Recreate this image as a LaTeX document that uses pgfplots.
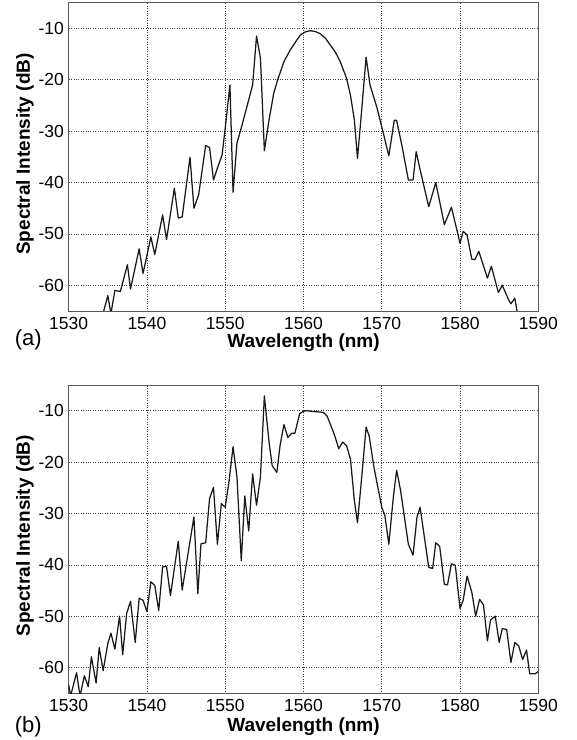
\documentclass[border=0pt]{standalone}
\usepackage{pgfplots}
\pgfplotsset{compat=1.18}
\usepackage{fontspec}
\setmainfont{Liberation Sans}

\pgfplotsset{
  spec/.style={
    scale only axis, width=469.6pt, height=308.3pt,
    xmin=1530, xmax=1590, ymin=-65, ymax=-5,
    xtick={1530,1540,...,1590}, ytick={-60,-50,...,-10},
    xticklabels={1530,1540,1550,1560,1570,1580,1590},
    yticklabels={-60,-50,-40,-30,-20,-10},
    grid=major,
    grid style={dotted, black!75, line width=0.6pt},
    axis line style={black!65, line width=0.8pt},
    major tick length=0pt,
    tick label style={font=\fontsize{17.5}{20}\selectfont, inner sep=0pt},
    xticklabel style={anchor=center, yshift=-12.5pt},
    yticklabel style={anchor=east, xshift=-4.7pt},
    no markers,
  },
  trace/.style={black!90, line width=1.25pt, line join=round, mark=none},
}
\tikzset{
  lab/.style={font=\fontsize{19}{22}\selectfont\bfseries},
  tag/.style={font=\fontsize{22}{24}\selectfont},
}

\begin{document}
\begin{tikzpicture}
\path[use as bounding box] (0,0) rectangle (577pt,740pt);

% (a) spectrum
\begin{axis}[spec, at={(68.7pt,429pt)}, anchor=south west]
\addplot[trace] coordinates {
(1534.3,-66) (1535.0,-62.0) (1535.4,-65.5) (1535.9,-61.0) (1536.6,-61.2)
(1537.5,-56.0) (1537.9,-60.7) (1539.0,-52.9) (1539.5,-57.7) (1540.5,-50.6)
(1541.0,-54.0) (1542.0,-46.3) (1542.5,-51.1) (1543.5,-41.1) (1544.0,-46.9)
(1544.5,-46.7) (1545.5,-35.1) (1546.0,-45.0) (1546.6,-42.4) (1547.5,-32.8)
(1548.0,-33.2) (1548.5,-39.5) (1549.0,-37.2) (1549.6,-34.6) (1550.0,-29.4)
(1550.6,-21.0) (1551.0,-41.9) (1551.5,-32.3) (1552.1,-29.1) (1553.0,-23.9)
(1553.5,-21.0) (1554.0,-11.5) (1554.5,-15.8) (1555.0,-33.8) (1555.6,-27.8)
(1556.2,-22.6) (1556.7,-20.0) (1557.5,-16.5) (1558.3,-14.2) (1559.0,-12.6)
(1559.6,-11.3) (1560.2,-10.7) (1560.85,-10.45) (1561.5,-10.6) (1562.1,-11.0)
(1562.8,-11.9) (1563.4,-13.2) (1564.1,-14.7) (1564.7,-16.5) (1565.5,-19.7)
(1566.0,-23.0) (1566.5,-27.8) (1566.9,-35.3) (1567.4,-26.5) (1568.0,-15.6)
(1568.5,-21.0) (1569.4,-25.5) (1570.2,-30.4) (1570.9,-34.8) (1571.6,-27.9)
(1571.9,-27.9) (1572.6,-33.0) (1573.4,-39.5) (1574.0,-39.5) (1574.4,-34.0)
(1574.9,-37.5) (1576.0,-44.7) (1576.9,-40.0) (1578.0,-48.2) (1578.9,-44.8)
(1580.0,-51.8) (1580.4,-49.5) (1580.9,-50.2) (1581.5,-54.9) (1581.9,-55.0)
(1582.4,-53.4) (1583.5,-58.6) (1584.0,-56.3) (1584.9,-61.4) (1585.4,-60.0)
(1586.2,-62.8) (1586.5,-63.6) (1587.0,-62.5) (1587.4,-66)
};
\end{axis}

% (b) spectrum
\begin{axis}[spec, at={(68.7pt,46.7pt)}, anchor=south west]
\addplot[trace] coordinates {
(1530.0,-63.4) (1530.25,-65.5) (1531.0,-61.0) (1531.45,-65.5) (1532.0,-61.6)
(1532.5,-63.7) (1532.9,-57.9) (1533.5,-63.0) (1533.9,-56.1) (1534.4,-60.6)
(1535.0,-55.3) (1535.4,-53.3) (1535.9,-56.4) (1536.5,-50.0) (1536.9,-57.5)
(1537.4,-49.5) (1537.9,-47.1) (1538.5,-55.1) (1539.0,-46.5) (1539.5,-46.9)
(1540.0,-49.1) (1540.5,-43.3) (1541.0,-44.0) (1541.5,-48.9) (1542.0,-40.4)
(1542.5,-40.3) (1543.0,-46.0) (1544.0,-35.4) (1544.5,-44.9) (1546.0,-30.7)
(1546.5,-45.6) (1546.9,-35.9) (1547.5,-35.7) (1548.0,-27.1) (1548.5,-24.9)
(1549.0,-36.0) (1549.5,-28.1) (1550.0,-28.8) (1550.5,-23.6) (1551.0,-17.0)
(1551.5,-22.9) (1552.05,-39.2) (1552.5,-26.6) (1553.0,-33.4) (1553.5,-22.3)
(1554.0,-28.4) (1554.5,-22.9) (1555.0,-7.1) (1555.6,-16.1) (1556.0,-20.7)
(1556.6,-22.0) (1557.0,-16.8) (1557.5,-12.7) (1558.0,-15.2) (1558.5,-14.4)
(1558.9,-14.4) (1559.5,-10.6) (1560.0,-10.1) (1560.4,-10.0) (1561.5,-10.2)
(1562.5,-10.3) (1563.0,-11.0) (1563.5,-12.9) (1564.0,-14.9) (1564.5,-17.4)
(1565.0,-16.1) (1565.5,-16.8) (1566.0,-19.4) (1566.5,-27.5) (1566.9,-31.8)
(1567.4,-23.6) (1568.0,-13.2) (1568.4,-15.0) (1569.0,-21.0) (1570.0,-28.8)
(1570.4,-30.4) (1570.9,-36.0) (1571.5,-26.5) (1571.9,-21.6) (1572.4,-25.5)
(1573.4,-36.0) (1574.0,-38.1) (1574.5,-30.7) (1574.9,-28.8) (1576.0,-40.5)
(1576.5,-40.7) (1576.9,-35.7) (1577.4,-36.4) (1578.0,-43.8) (1578.4,-43.9)
(1578.9,-39.8) (1579.4,-40.1) (1580.0,-48.5) (1580.4,-46.9) (1580.9,-42.2)
(1581.5,-45.3) (1582.0,-50.0) (1582.5,-46.7) (1583.0,-47.8) (1583.5,-54.8)
(1583.9,-50.7) (1584.5,-50.0) (1585.0,-55.1) (1585.4,-52.4) (1585.96,-52.6)
(1586.5,-59.0) (1587.0,-55.1) (1587.5,-55.8) (1588.0,-58.4) (1588.5,-56.6)
(1588.9,-61.2) (1589.6,-61.2) (1590.0,-60.8)
};
\end{axis}

% axis titles and panel tags
\node[lab, anchor=base] at (303.5pt,392pt) {Wavelength (nm)};
\node[lab, anchor=base] at (303.5pt,8.3pt) {Wavelength (nm)};
\node[lab, rotate=90, anchor=center] at (25pt,586pt) {Spectral Intensity (dB)};
\node[lab, rotate=90, anchor=center] at (25pt,204.2pt) {Spectral Intensity (dB)};
\node[tag, anchor=center] at (28.3pt,400pt) {(a)};
\node[tag, anchor=center] at (28.3pt,13.3pt) {(b)};
\end{tikzpicture}
\end{document}
